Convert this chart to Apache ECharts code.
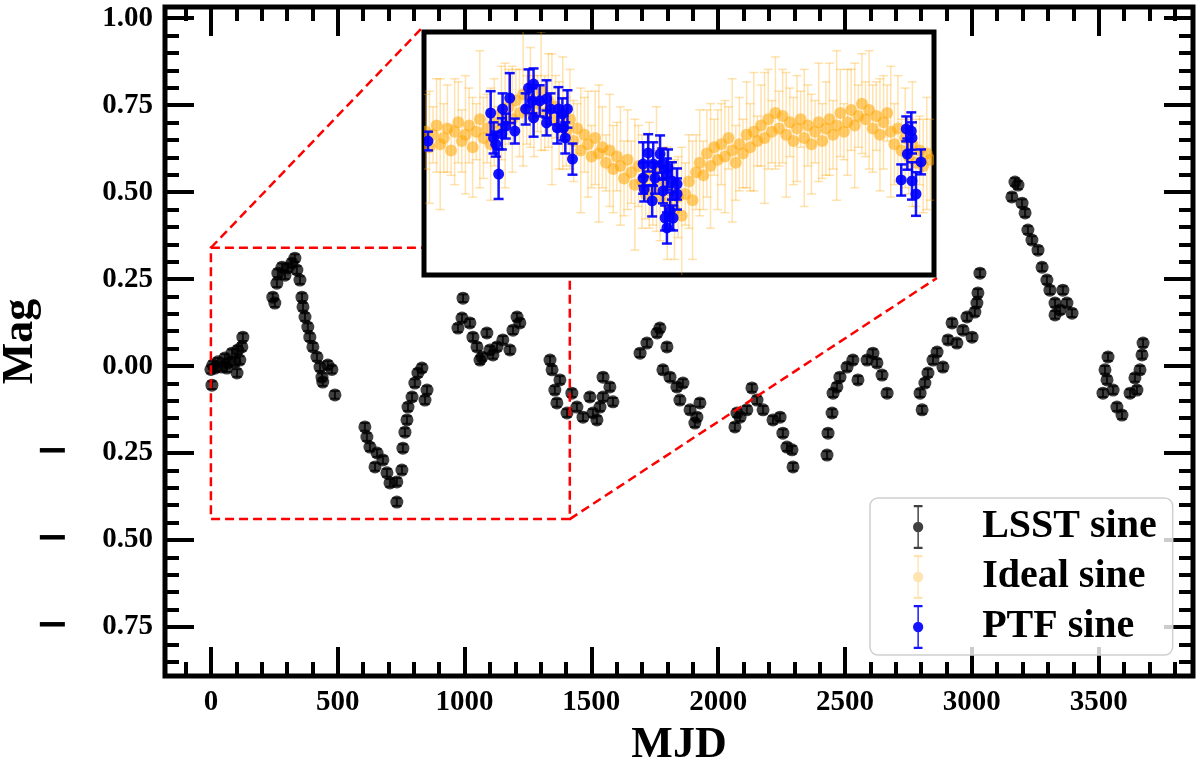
<!DOCTYPE html>
<html>
<head>
<meta charset="utf-8">
<script src="https://cdn.jsdelivr.net/npm/echarts@6/dist/echarts.min.js"></script>
<style>
  html, body { margin: 0; padding: 0; background: #fff; }
  #chart { width: 1200px; height: 764px; }
</style>
</head>
<body>
<div id="chart"></div>
<script>
// LSST light curve (main panel)
const lsstMjd = [
  4, 0, 8, 28, 43, 55, 67, 83, 95, 103, 106, 122, 126, 114, 16, 63,
  252, 244, 260, 264, 280, 292, 304, 319, 331, 339, 351, 359, 363, 371, 382, 390, 402, 418, 430, 441, 461, 477, 489, 438,
  607, 615, 627, 655, 647, 678, 694, 706, 733, 733, 753, 757, 765, 773, 777, 793, 804, 816, 832, 844, 852,
  994, 974, 990, 1021, 1033, 1049, 1069, 1088, 1100, 1128, 1151, 1179, 1191, 1207, 1218, 1061, 1112,
  1337, 1345, 1356, 1376, 1364, 1404, 1423, 1443, 1467, 1494, 1522, 1546, 1534, 1546, 1585, 1573, 1506,
  1692, 1719, 1759, 1770, 1798, 1782, 1810, 1837, 1861, 1849, 1889, 1916, 1928, 1908,
  2066, 2086, 2113, 2133, 2153, 2177, 2216, 2244, 2255, 2271, 2291, 2295, 2074,
  2429, 2433, 2449, 2453, 2468, 2480, 2508, 2531, 2551, 2587, 2610, 2626, 2646, 2666,
  2804, 2796, 2815, 2827, 2847, 2863, 2886, 2906, 2922, 2941, 2965, 2981, 3001, 3012, 3020, 3024, 3032,
  3170, 3182, 3158, 3198, 3210, 3221, 3237, 3261, 3277, 3296, 3308, 3328, 3328, 3359, 3375, 3395, 3348,
  3537, 3525, 3533, 3517, 3557, 3572, 3592, 3624, 3651, 3643, 3663, 3675, 3671
]
const lsstMag = [
  -0.055, -0.01, 0.003, 0.012, -0.003, 0.023, 0.009, 0.037, 0.012, -0.02, 0.046, 0.055, 0.083, 0.017, -0.006, -0.006,
  0.181, 0.198, 0.238, 0.267, 0.284, 0.261, 0.282, 0.296, 0.31, 0.276, 0.247, 0.198, 0.17, 0.141, 0.112, 0.083, 0.055, 0.026, -0.003, -0.046, 0.003, -0.01, -0.083, -0.032,
  -0.175, -0.204, -0.233, -0.25, -0.29, -0.27, -0.307, -0.336, -0.333, -0.391, -0.299, -0.236, -0.19, -0.155, -0.118, -0.089, -0.049, -0.02, -0.006, -0.098, -0.069,
  0.195, 0.109, 0.138, 0.124, 0.083, 0.055, 0.026, 0.095, 0.046, 0.055, 0.075, 0.046, 0.103, 0.141, 0.124, 0.017, 0.032,
  0.017, -0.011, -0.069, -0.04, -0.106, -0.135, -0.078, -0.118, -0.147, -0.089, -0.155, -0.032, -0.118, -0.089, -0.103, -0.06, -0.135,
  0.037, 0.066, 0.095, 0.109, 0.055, -0.011, -0.032, -0.06, -0.049, -0.098, -0.126, -0.147, -0.106, -0.164,
  -0.175, -0.147, -0.126, -0.063, -0.098, -0.126, -0.155, -0.147, -0.193, -0.233, -0.241, -0.29, -0.135,
  -0.256, -0.193, -0.135, -0.078, -0.06, -0.032, -0.003, 0.017, -0.04, 0.017, 0.037, 0.009, -0.026, -0.078,
  -0.126, -0.078, -0.049, -0.02, 0.017, 0.04, -0.003, 0.075, 0.124, 0.066, 0.103, 0.141, 0.083, 0.155, 0.181, 0.21, 0.267,
  0.529, 0.52, 0.486, 0.468, 0.44, 0.391, 0.362, 0.333, 0.284, 0.247, 0.218, 0.181, 0.147, 0.218, 0.181, 0.152, 0.161,
  0.026, -0.011, -0.04, -0.078, -0.069, -0.118, -0.141, -0.078, -0.069, -0.034, -0.011, 0.066, 0.032
]
const lsstErr = 0.011

// ideal sine (inset)
const idealMjd = [
  5, 15, 25, 35, 45, 55, 65, 75, 85, 95,
  105, 115, 125, 135, 145, 155, 165, 175, 185, 195,
  205, 215, 225, 235, 245, 255, 265, 275, 285, 295,
  305, 315, 325, 335, 345, 355, 365, 375, 385, 395,
  405, 415, 425, 435, 445, 455, 465, 475, 485, 495,
  505, 515, 525, 535, 545, 555, 565, 575, 585, 595,
  605, 615, 625, 635, 645, 655, 665, 675, 685, 695,
  705, 715, 725, 735, 745, 755, 765, 775, 785, 795,
  805, 815, 825, 835, 845, 855, 865, 875, 885, 895,
  905, 915, 925, 935, 945, 955, 965, 975, 985, 995,
  1005, 1015, 1025, 1035, 1045, 1055, 1065, 1075, 1085, 1095,
  1105, 1115, 1125, 1135, 1145, 1155, 1165, 1175, 1185, 1195,
  1205, 1215, 1225, 1235, 1245, 1255, 1265, 1275, 1285, 1295,
  1305, 1315, 1325, 1335, 1345, 1355, 1365, 1375, 1385, 1395,
  1405
]
const idealMag = [
  0.02, -0.03, 0.01, 0.04, -0.02, 0.00, 0.03, -0.04, 0.02, 0.05,
  -0.01, 0.01, 0.04, -0.03, 0.02, 0.06, 0.00, 0.03, -0.02, 0.05,
  0.02, 0.08, 0.04, 0.10, 0.06, 0.12, 0.08, 0.14, 0.09, 0.13,
  0.07, 0.11, 0.15, 0.08, 0.12, 0.06, 0.10, 0.04, 0.08, 0.02,
  0.06, -0.01, 0.03, -0.04, 0.01, -0.02, -0.06, 0.00, -0.05, -0.03,
  -0.08, -0.04, -0.10, -0.06, -0.09, -0.13, -0.07, -0.11, -0.15, -0.09,
  -0.14, -0.18, -0.12, -0.16, -0.10, -0.19, -0.14, -0.21, -0.17, -0.23,
  -0.19, -0.25, -0.18, -0.14, -0.20, -0.11, -0.08, -0.12, -0.05, -0.09,
  -0.03, -0.07, -0.02, -0.06, 0.00, -0.04, -0.08, -0.02, -0.05, 0.01,
  -0.03, 0.02, -0.01, 0.04, 0.00, 0.06, 0.02, 0.08, 0.03, 0.07,
  0.01, 0.05, -0.01, 0.03, 0.06, 0.00, 0.04, -0.02, 0.02, 0.05,
  -0.01, 0.03, 0.06, 0.01, 0.04, 0.08, 0.02, 0.05, 0.09, 0.04,
  0.07, 0.11, 0.06, 0.09, 0.03, 0.07, 0.01, 0.05, 0.08, 0.02,
  -0.02, 0.03, -0.04, 0.00, -0.06, -0.02, -0.08, -0.04, -0.09, -0.05,
  -0.07
]
const idealErr = [
  0.12, 0.18, 0.09, 0.15, 0.21, 0.11, 0.14, 0.08, 0.17, 0.13,
  0.10, 0.19, 0.12, 0.16, 0.09, 0.22, 0.13, 0.11, 0.18, 0.14,
  0.08, 0.15, 0.20, 0.12, 0.17, 0.10, 0.14, 0.23, 0.11, 0.16,
  0.13, 0.09, 0.19, 0.12, 0.15, 0.21, 0.10, 0.14, 0.18, 0.11,
  0.16, 0.13, 0.08, 0.20, 0.12, 0.17, 0.10, 0.15, 0.22, 0.13,
  0.09, 0.18, 0.14, 0.11, 0.19, 0.12, 0.16, 0.10, 0.21, 0.13,
  0.15, 0.08, 0.17, 0.12, 0.20, 0.14, 0.11, 0.18, 0.09, 0.16,
  0.13, 0.22, 0.10, 0.15, 0.19, 0.12, 0.17, 0.11, 0.14, 0.20,
  0.09, 0.16, 0.13, 0.18, 0.10, 0.23, 0.12, 0.15, 0.11, 0.17,
  0.14, 0.19, 0.08, 0.13, 0.21, 0.16, 0.10, 0.18, 0.12, 0.15,
  0.20, 0.11, 0.14, 0.17, 0.09, 0.22, 0.13, 0.16, 0.10, 0.19,
  0.12, 0.15, 0.18, 0.11, 0.24, 0.14, 0.09, 0.17, 0.13, 0.20,
  0.10, 0.16, 0.12, 0.19, 0.14, 0.11, 0.18, 0.15, 0.09, 0.21,
  0.13, 0.17, 0.10, 0.16, 0.12, 0.20, 0.14, 0.11, 0.15, 0.18,
  0.13
]

// PTF (inset)
const ptfMjd = [
  11, 185, 193, 199, 207, 218, 227, 216, 238, 252, 282, 290, 304, 301, 304, 321, 340, 340, 351, 370, 373, 384, 387, 392, 398, 412,
  608, 608, 611, 622, 633, 636, 655, 661, 663, 674, 677, 669, 674, 683, 691, 702, 702, 688, 641,
  1324, 1341, 1338, 1352, 1354, 1354, 1365, 1379
]
const ptfMag = [
  -0.01, 0.08, 0.0, -0.02, -0.116, 0.093, 0.038, 0.013, 0.128, 0.022, 0.093, 0.16, 0.173, 0.119, 0.064, 0.119, 0.125, 0.048, 0.093, 0.032, 0.093, 0.077, 0.032, 0.0, 0.093, -0.068,
  -0.084, -0.129, -0.164, -0.048, -0.202, -0.084, -0.052, -0.084, -0.17, -0.116, -0.097, -0.257, -0.289, -0.235, -0.257, -0.148, -0.18, -0.138, -0.129,
  -0.135, -0.052, 0.029, 0.022, 0.0, -0.138, -0.18, -0.077
]
const ptfErr = [
  0.03, 0.07, 0.05, 0.04, 0.08, 0.05, 0.04, 0.05, 0.08, 0.04, 0.05, 0.06, 0.05, 0.04, 0.06, 0.05, 0.06, 0.04, 0.05, 0.05, 0.07, 0.05, 0.04, 0.05, 0.06, 0.05,
  0.07, 0.05, 0.04, 0.06, 0.05, 0.07, 0.06, 0.05, 0.04, 0.05, 0.06, 0.04, 0.05, 0.06, 0.04, 0.05, 0.05, 0.06, 0.05,
  0.05, 0.05, 0.04, 0.06, 0.05, 0.06, 0.07, 0.04
]

const xTicks = [0, 500, 1000, 1500, 2000, 2500, 3000, 3500]
const yTicks = [-0.75, -0.5, -0.25, 0, 0.25, 0.5, 0.75, 1.0]
const xRange = [-181, 3872]
const yRange = [-0.891, 1.032]
// region of the main panel blown up in the inset
const zoomX = [0, 1415]
const zoomY = [-0.44, 0.34]

const xMinor = []
for (let i = -1; i <= 38; i++) if (i % 5) xMinor.push(i * 100)
const yMinor = []
for (let i = -17; i <= 20; i++) if (i % 5) yMinor.push(+(i * 0.05).toFixed(2))

const FONT = "'Liberation Serif', 'DejaVu Serif', serif"
const chart = echarts.init(document.getElementById('chart'))

const errorBar = (st) => (params, api) => {
  const x = api.value(0)
  const y = api.value(1)
  const e = api.value(2)
  const c = api.coord([x, y])
  const t = api.coord([x, y + e])[1]
  const b = api.coord([x, y - e])[1]
  const h = st.cap / 2
  const ls = { stroke: st.bar, lineWidth: st.width }
  return {
    type: 'group',
    children: [
      { type: 'line', shape: { x1: c[0], y1: t, x2: c[0], y2: b }, style: ls },
      { type: 'line', shape: { x1: c[0] - h, y1: t, x2: c[0] + h, y2: t }, style: ls },
      { type: 'line', shape: { x1: c[0] - h, y1: b, x2: c[0] + h, y2: b }, style: ls },
      { type: 'circle', shape: { cx: c[0], cy: c[1], r: st.r }, style: { fill: st.fill } }
    ]
  }
}

const zip = (xs, ys, es) => xs.map((x, i) => [x, ys[i], Array.isArray(es) ? es[i] : es])

const lsstColor = 'rgba(0,0,0,0.75)'
const idealBar = 'rgba(255,165,0,0.32)'
const idealDot = 'rgba(255,165,0,0.55)'
const ptfColor = 'rgba(0,0,255,0.92)'

const tick = (values, len) => ({
  show: true,
  inside: true,
  length: len,
  customValues: values,
  lineStyle: { color: '#000', width: 4 }
})
const noLine = { show: false, onZero: false }
const labelStyle = { fontFamily: FONT, fontWeight: 'bold', fontSize: 29, color: '#000' }
// long math-style minus sign, set apart from the digits
const fmtY = (v) => (v < 0 ? '{m|\u2212}' : '') + '{n|' + Math.abs(v).toFixed(2) + '}'
const nameStyle = { fontFamily: FONT, fontWeight: 'bold', fontSize: 44, color: '#000' }

const mainX = (pos, values, len, label) => ({
  type: 'value', gridIndex: 0, position: pos, min: xRange[0], max: xRange[1],
  axisLine: noLine, splitLine: { show: false },
  axisTick: tick(values, len),
  axisLabel: label
    ? { show: true, customValues: xTicks, margin: 12, formatter: (v) => String(v), ...labelStyle }
    : { show: false }
})
const mainY = (pos, values, len, label) => ({
  type: 'value', gridIndex: 0, position: pos, min: yRange[0], max: yRange[1],
  axisLine: noLine, splitLine: { show: false },
  axisTick: tick(values, len),
  axisLabel: label
    ? {
        show: true, customValues: yTicks, margin: 12, formatter: fmtY, ...labelStyle,
        rich: {
          m: { fontFamily: "'DejaVu Serif', serif", fontWeight: 'bold', fontSize: 40, color: '#000', verticalAlign: 'middle', lineHeight: 32, padding: [0, 33, 0, 0] },
          n: { fontFamily: FONT, fontWeight: 'bold', fontSize: 29, color: '#000', verticalAlign: 'middle', lineHeight: 32 }
        }
      }
    : { show: false }
})

const legendIcon = 'path://M4,0H16V3H4Z M9,0H11V60H9Z M4,57H16V60H4Z M10,23A7,7 0 1 1 10,37A7,7 0 1 1 10,23Z'

chart.setOption({
  animation: false,
  grid: [
    { left: 165, top: 7, right: 7, bottom: 88, containLabel: false, outerBoundsMode: 'none',
      show: true, borderWidth: 5, borderColor: '#000', backgroundColor: 'transparent' },
    { left: 424, top: 32, width: 510, height: 243, containLabel: false, outerBoundsMode: 'none',
      show: true, borderWidth: 5, borderColor: '#000', backgroundColor: '#fff', z: 5 }
  ],
  xAxis: [
    { ...mainX('bottom', xTicks, 29, true), name: 'MJD', nameLocation: 'middle', nameGap: 48,
      nameMoveOverlap: false, nameTextStyle: nameStyle },
    mainX('bottom', xMinor, 14, false),
    mainX('top', xTicks, 29, false),
    mainX('top', xMinor, 14, false),
    { type: 'value', gridIndex: 1, min: zoomX[0], max: zoomX[1], show: false }
  ],
  yAxis: [
    { ...mainY('left', yTicks, 29, true), name: 'Mag', nameLocation: 'middle', nameGap: 122,
      nameMoveOverlap: false, nameTextStyle: nameStyle },
    mainY('left', yMinor, 14, false),
    mainY('right', yTicks, 29, false),
    mainY('right', yMinor, 14, false),
    { type: 'value', gridIndex: 1, min: zoomY[0], max: zoomY[1], show: false }
  ],
  legend: {
    orient: 'vertical',
    left: 870,
    top: 498,
    padding: [7, 16, 6, 43],
    itemWidth: 16,
    itemHeight: 44,
    itemGap: 6,
    backgroundColor: 'rgba(255,255,255,0.8)',
    borderColor: '#d0d0d0',
    borderWidth: 1.5,
    borderRadius: 8,
    selectedMode: false,
    textStyle: { fontFamily: FONT, fontWeight: 'bold', fontSize: 40, color: '#000', padding: [0, 0, 0, 51] },
    data: [
      { name: 'LSST sine', icon: legendIcon },
      { name: 'Ideal sine', icon: legendIcon },
      { name: 'PTF sine', icon: legendIcon }
    ]
  },
  series: [
    {
      name: 'LSST sine', type: 'custom', xAxisIndex: 0, yAxisIndex: 0,
      itemStyle: { color: lsstColor },
      renderItem: errorBar({ bar: 'rgba(0,0,0,0.8)', width: 2, cap: 9, r: 6.5, fill: lsstColor }),
      data: zip(lsstMjd, lsstMag, lsstErr)
    },
    {
      name: 'Ideal sine', type: 'custom', xAxisIndex: 4, yAxisIndex: 4, z: 6, clip: true,
      itemStyle: { color: 'rgba(255,165,0,0.3)' },
      renderItem: errorBar({ bar: idealBar, width: 1.5, cap: 9, r: 6, fill: idealDot }),
      data: zip(idealMjd, idealMag, idealErr)
    },
    {
      name: 'PTF sine', type: 'custom', xAxisIndex: 4, yAxisIndex: 4, z: 7, clip: true,
      itemStyle: { color: ptfColor },
      renderItem: errorBar({ bar: ptfColor, width: 2.5, cap: 10, r: 5.5, fill: ptfColor }),
      data: zip(ptfMjd, ptfMag, ptfErr)
    }
  ]
})

// zoom box on the main panel and the connectors to the inset
const onMain = (p) => chart.convertToPixel({ xAxisIndex: 0, yAxisIndex: 0 }, p)
const onInset = (p) => chart.convertToPixel({ xAxisIndex: 4, yAxisIndex: 4 }, p)
const tl = onMain([zoomX[0], zoomY[1]])
const br = onMain([zoomX[1], zoomY[0]])
const itl = onInset([zoomX[0], zoomY[1]])
const ibr = onInset([zoomX[1], zoomY[0]])
const dash = { stroke: '#ff0000', lineWidth: 2.5, lineDash: [9, 5], fill: null }
chart.setOption({
  graphic: [
    { type: 'rect', z: 4, shape: { x: tl[0], y: tl[1], width: br[0] - tl[0], height: br[1] - tl[1] }, style: dash },
    { type: 'line', z: 4, shape: { x1: tl[0], y1: tl[1], x2: itl[0] - 3, y2: itl[1] - 3 }, style: dash },
    { type: 'line', z: 4, shape: { x1: br[0], y1: br[1], x2: ibr[0] + 3, y2: ibr[1] + 3 }, style: dash }
  ]
})
</script>
</body>
</html>
